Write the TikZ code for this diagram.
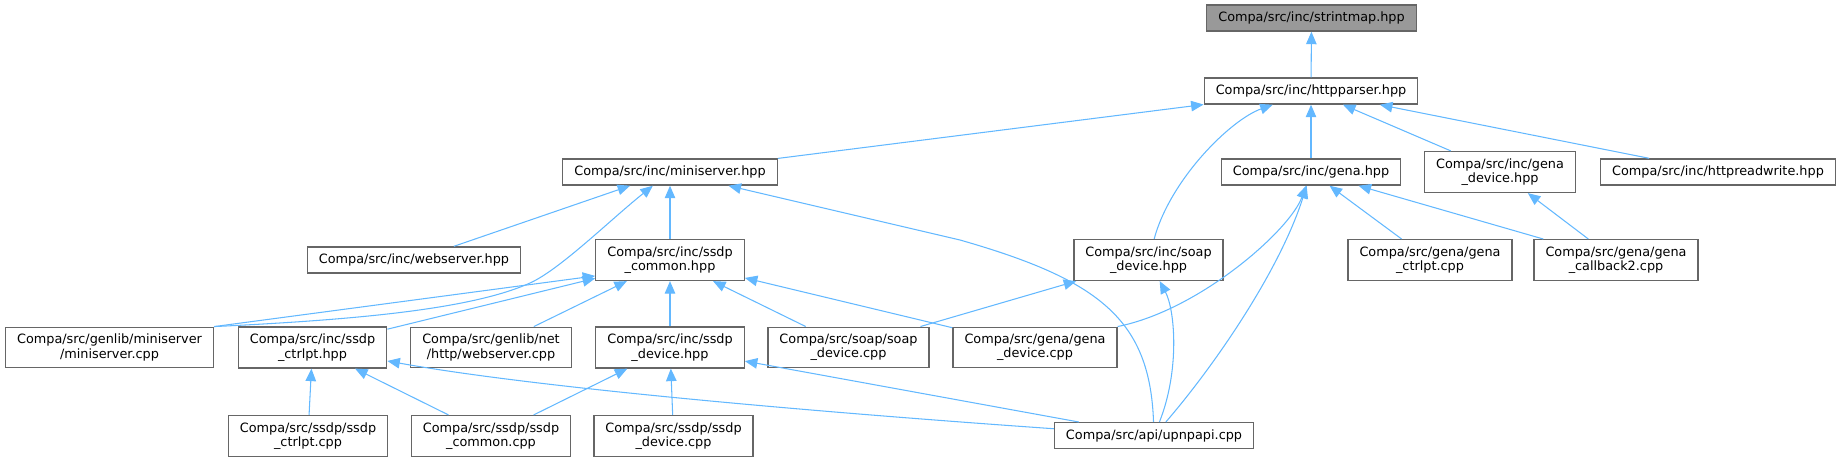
\documentclass[tikz,border=0pt]{standalone}
\usepackage{fontspec}
\setmainfont{DejaVu Sans}
\usetikzlibrary{arrows.meta}
\definecolor{cedge}{HTML}{63B8FF}
\definecolor{cframe}{HTML}{666666}
\definecolor{croot}{HTML}{999999}
\tikzset{
  every picture/.style={font=\fontsize{7.3}{8.2}\selectfont, line width=0.6pt},
  file/.style={draw=cframe, fill=#1, line width=0.75pt, align=center, inner xsep=0.23cm, inner ysep=3.9pt, minimum height=0.5cm},
  file/.default=white,
  dep/.style={-{Triangle[length=0.25cm, width=0.21cm]}, draw=cedge, line width=0.6pt},
}

\begin{document}
\begin{tikzpicture}[x=0.02cm, y=-0.02cm]
  \useasboundingbox (0,0) rectangle (1841,461);
  % top: the header and its one includer
  \node[file=croot] (strintmap) at (1311.5,18) {Compa/src/inc/strintmap.hpp};
  \node[file] (httpparser) at (1311,91) {Compa/src/inc/httpparser.hpp};
  % row 2
  \node[file] (minihpp) at (670,172) {Compa/src/inc/miniserver.hpp};
  \node[file] (genahpp) at (1311,172) {Compa/src/inc/gena.hpp};
  \node[file] (genadevhpp) at (1500,172) {Compa/src/inc/gena\\\_device.hpp};
  \node[file] (httprw) at (1718,172) {Compa/src/inc/httpreadwrite.hpp};
  % row 3
  \node[file] (webhpp) at (414,260) {Compa/src/inc/webserver.hpp};
  \node[file] (ssdpcomhpp) at (670,260) {Compa/src/inc/ssdp\\\_common.hpp};
  \node[file] (soaphpp) at (1148.5,260) {Compa/src/inc/soap\\\_device.hpp};
  \node[file] (genactrlcpp) at (1430,260) {Compa/src/gena/gena\\\_ctrlpt.cpp};
  \node[file] (genacbcpp) at (1616,260) {Compa/src/gena/gena\\\_callback2.cpp};
  % row 4
  \node[file] (minicpp) at (109.5,347.5) {Compa/src/genlib/miniserver\\/miniserver.cpp};
  \node[file] (ssdpctrlhpp) at (312.5,347.5) {Compa/src/inc/ssdp\\\_ctrlpt.hpp};
  \node[file] (webcpp) at (491,347.5) {Compa/src/genlib/net\\/http/webserver.cpp};
  \node[file] (ssdpdevhpp) at (670,347.5) {Compa/src/inc/ssdp\\\_device.hpp};
  \node[file] (soapcpp) at (848.5,347.5) {Compa/src/soap/soap\\\_device.cpp};
  \node[file] (genadevcpp) at (1035,347.5) {Compa/src/gena/gena\\\_device.cpp};
  % row 5
  \node[file] (ssdpctrlcpp) at (308,436) {Compa/src/ssdp/ssdp\\\_ctrlpt.cpp};
  \node[file] (ssdpcomcpp) at (491,436) {Compa/src/ssdp/ssdp\\\_common.cpp};
  \node[file] (ssdpdevcpp) at (673.5,436) {Compa/src/ssdp/ssdp\\\_device.cpp};
  \node[file] (upnpapi) at (1154,435.7) {Compa/src/api/upnpapi.cpp};
  % includes of strintmap and httpparser
  \draw[dep] (httpparser) -- (strintmap);
  \draw[dep] (minihpp) -- (httpparser);
  \draw[dep] (soaphpp) .. controls (1170,180) and (1230,120) .. (httpparser);
  \draw[dep] (genahpp) -- (httpparser);
  \draw[dep] (genadevhpp) -- (httpparser);
  \draw[dep] (httprw) -- (httpparser);
  % miniserver.hpp
  \draw[dep] (webhpp) -- (minihpp);
  \draw[dep] (minicpp.north east) .. controls (350,320) and (470,310) .. (530,283)
    .. controls (560,269.5) and (610,220) .. (minihpp);
  \draw[dep] (ssdpcomhpp) -- (minihpp);
  \draw[dep] (upnpapi) .. controls (1150,320) and (1100,280) .. (960,240) -- (minihpp);
  % ssdp_common.hpp
  \draw[dep] (minicpp.north east) -- (ssdpcomhpp.192);
  \draw[dep] (ssdpctrlhpp) -- (ssdpcomhpp);
  \draw[dep] (webcpp) -- (ssdpcomhpp);
  \draw[dep] (ssdpdevhpp) -- (ssdpcomhpp);
  \draw[dep] (soapcpp) -- (ssdpcomhpp);
  \draw[dep] (genadevcpp) -- (ssdpcomhpp);
  % ssdp_ctrlpt.hpp and ssdp_device.hpp
  \draw[dep] (ssdpctrlcpp) -- (ssdpctrlhpp);
  \draw[dep] (ssdpcomcpp) -- (ssdpctrlhpp);
  \draw[dep] (upnpapi) .. controls (900,418) and (560,392) .. (ssdpctrlhpp);
  \draw[dep] (ssdpcomcpp) -- (ssdpdevhpp);
  \draw[dep] (ssdpdevcpp) -- (ssdpdevhpp);
  \draw[dep] (upnpapi) -- (ssdpdevhpp);
  % soap_device.hpp
  \draw[dep] (soapcpp) -- (soaphpp);
  \draw[dep] (upnpapi) .. controls (1180,370) and (1175,310) .. (soaphpp);
  % gena.hpp and gena_device.hpp
  \draw[dep] (genadevcpp.north east) .. controls (1200,310) and (1290,230) .. (genahpp);
  \draw[dep] (upnpapi) .. controls (1215,365) and (1280,270) .. (genahpp);
  \draw[dep] (genactrlcpp) -- (genahpp);
  \draw[dep] (genacbcpp) -- (genahpp);
  \draw[dep] (genacbcpp) -- (genadevhpp);
\end{tikzpicture}
\end{document}
